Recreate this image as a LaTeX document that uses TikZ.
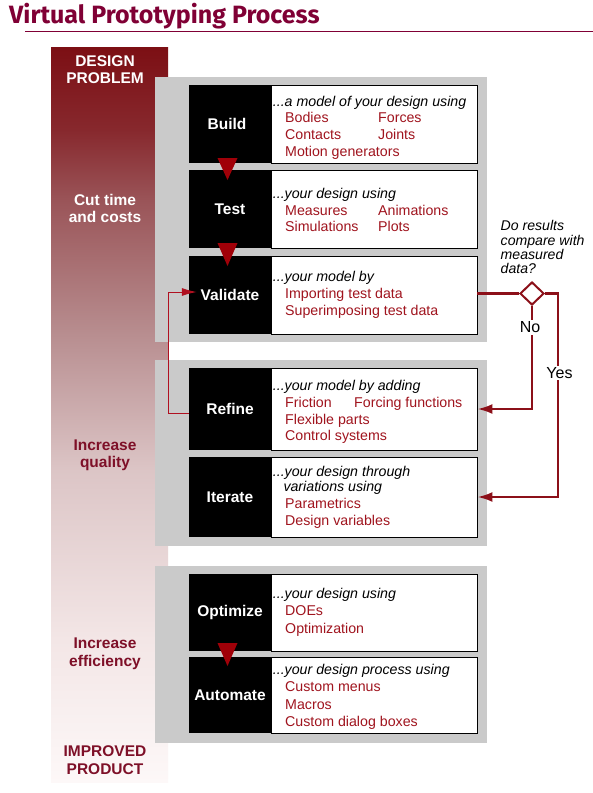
\documentclass[tikz,border=0pt]{standalone}
\usepackage{fontspec}
\setmainfont{Liberation Sans}
\newfontfamily\titlefont{Fira Sans}
\usetikzlibrary{arrows.meta,shapes.geometric}
\definecolor{maroon}{HTML}{8C1019}
\definecolor{itemred}{HTML}{A0141E}
\definecolor{titlecol}{HTML}{800035}
\definecolor{panelgray}{HTML}{CACACA}
\definecolor{tricol}{HTML}{A00008}
\definecolor{barlabel}{HTML}{7E1028}
\definecolor{loopred}{HTML}{B01020}
\definecolor{bA}{HTML}{FDF8F8}
\definecolor{bB}{HTML}{F3E6E6}
\definecolor{bC}{HTML}{DCC5C6}
\definecolor{bD}{HTML}{B88E90}
\definecolor{bE}{HTML}{9A5458}
\definecolor{bF}{HTML}{87282D}
\definecolor{bG}{HTML}{7C0F14}
\pgfdeclareverticalshading{barshade}{100bp}{color(0bp)=(bA); color(25bp)=(bA); color(34.7bp)=(bB); color(46.2bp)=(bC); color(55.4bp)=(bD); color(64.6bp)=(bE); color(69.4bp)=(bF); color(75bp)=(bG); color(100bp)=(bG)}
\tikzset{
  blk/.style={fill=black, text=white, font=\fontsize{15.5}{18}\selectfont\bfseries, minimum width=82pt, inner sep=0pt},
  wht/.style={fill=white, draw=black, line width=0.9pt, minimum width=206pt, inner sep=0pt},
  lead/.style={font=\fontsize{14.2}{17}\selectfont\itshape, anchor=base west, inner sep=0pt},
  itm/.style={font=\fontsize{14.2}{17}\selectfont, text=itemred, anchor=base west, inner sep=0pt},
  barw/.style={font=\fontsize{15.5}{18}\selectfont\bfseries, text=white, anchor=base, inner sep=0pt},
  barr/.style={font=\fontsize{15.5}{18}\selectfont\bfseries, text=barlabel, anchor=base, inner sep=0pt},
  flow/.style={draw=maroon, line width=2.4pt},
  flowarrow/.style={flow, -{Latex[length=15pt,width=10pt]}},
  loopline/.style={draw=loopred, line width=1pt, -{Latex[length=15pt,width=8pt]}},
  ques/.style={font=\fontsize{14.1}{17}\selectfont\itshape, anchor=base west, inner sep=0pt},
  yn/.style={font=\fontsize{16}{18}\selectfont, fill=white, inner sep=1.5pt},
  panel/.style={fill=panelgray},
  tri/.style={fill=tricol}
}
\begin{document}
\begin{tikzpicture}[x=1pt,y=-1pt]
\useasboundingbox (0,0) rectangle (593,793);
\fill[white] (0,0) rectangle (593,793);
% title
\node[anchor=base west, inner sep=0pt, text=titlecol, font=\titlefont\fontsize{25}{29}\selectfont\bfseries] (title) at (9,23) {Virtual Prototyping Process};
\draw[titlecol, line width=1.2pt] (25,31.7) -- (593,31.7);
% left bar
\shade[shading=barshade] (51,47) rectangle (168,782);
% panels
\fill[panel] (155,77) rectangle (487,342);
\fill[panel] (155,360) rectangle (487,546);
\fill[panel] (155,566) rectangle (487,743);
% white boxes
\node[wht, minimum height=78pt] (buildw) at (374,124) {};
\node[wht, minimum height=78pt] (testw) at (374,209) {};
\node[wht, minimum height=78pt] (valw) at (374,295) {};
\node[wht, minimum height=82pt] (refw) at (374,409) {};
\node[wht, minimum height=80pt] (itw) at (374,497) {};
\node[wht, minimum height=77pt] (optw) at (374,612.5) {};
\node[wht, minimum height=76pt] (autw) at (374,695) {};
% black boxes
\node[blk, minimum height=78pt] (buildb) at (230,124) {\hspace*{-6pt}Build};
\node[blk, minimum height=78pt] (testb) at (230,209) {Test};
\node[blk, minimum height=78pt] (valb) at (230,295) {Validate};
\node[blk, minimum height=82pt] (refb) at (230,409) {Refine};
\node[blk, minimum height=80pt] (itb) at (230,497) {Iterate};
\node[blk, minimum height=77pt] (optb) at (230,612.5) {Optimize};
\node[blk, minimum height=76pt] (autb) at (230,695) {Automate};
% triangles
\fill[tri] (217.5,158) -- (237.5,158) -- (227.5,180) -- cycle;
\fill[tri] (217.5,243) -- (237.5,243) -- (227.5,266) -- cycle;
\fill[tri] (217.5,643) -- (237.5,643) -- (227.5,666) -- cycle;
% bar labels
\node[barw] (l1) at (105,66) {DESIGN};
\node[barw] (l2) at (105,83.3) {PROBLEM};
\node[barw] (l3) at (105,205) {Cut time};
\node[barw] (l4) at (105,222.7) {and costs};
\node[barr] (l5) at (105,450) {Increase};
\node[barr] (l6) at (105,467) {quality};
\node[barr] (l7) at (105,648.3) {Increase};
\node[barr] (l8) at (105,666.7) {efficiency};
\node[barr] (l9) at (105,756.7) {IMPROVED};
\node[barr] (l10) at (105,774) {PRODUCT};
% build text
\node[lead] (b0) at (272.7,106) {...a model of your design using};
\node[itm] (b1) at (285,122.7) {Bodies};
\node[itm] (b2) at (378,122.7) {Forces};
\node[itm] (b3) at (285,139.4) {Contacts};
\node[itm] (b4) at (378,139.4) {Joints};
\node[itm] (b5) at (285,156) {Motion generators};
% test text
\node[lead] (c0) at (272.7,198) {...your design using};
\node[itm] (c1) at (285,215) {Measures};
\node[itm] (c2) at (378,215) {Animations};
\node[itm] (c3) at (285,231.7) {Simulations};
\node[itm] (c4) at (378,231.7) {Plots};
% validate text
\node[lead] (d0) at (272.7,281.7) {...your model by};
\node[itm] (d1) at (285,298.3) {Importing test data};
\node[itm] (d2) at (285,315) {Superimposing test data};
% refine text
\node[lead] (e0) at (272.7,390) {...your model by adding};
\node[itm] (e1) at (285,407.3) {Friction};
\node[itm] (e2) at (354,407.3) {Forcing functions};
\node[itm] (e3) at (285,424) {Flexible parts};
\node[itm] (e4) at (285,440.7) {Control systems};
% iterate text
\node[lead] (f0) at (272.7,476) {...your design through};
\node[lead] (f1) at (283.3,491.5) {variations using};
\node[itm] (f2) at (285,508.3) {Parametrics};
\node[itm] (f3) at (285,525) {Design variables};
% optimize text
\node[lead] (g0) at (272.7,598.3) {...your design using};
\node[itm] (g1) at (285,615.7) {DOEs};
\node[itm] (g2) at (285,633.3) {Optimization};
% automate text
\node[lead] (h0) at (272.7,674.3) {...your design process using};
\node[itm] (h1) at (285,691.7) {Custom menus};
\node[itm] (h2) at (285,709) {Macros};
\node[itm] (h3) at (285,726.7) {Custom dialog boxes};
% question
\node[ques] (q1) at (500.5,230.5) {Do results};
\node[ques] (q2) at (500.5,245) {compare with};
\node[ques] (q3) at (500.5,259.3) {measured};
\node[ques] (q4) at (500.5,273.3) {data?};
% decision
\node[diamond, draw=maroon, line width=2pt, fill=white, minimum width=24pt, minimum height=23pt, inner sep=0pt] (dia) at (532,293.5) {};
\draw[flow] (dia.west -| valw.east) -- (dia.west);
\coordinate (yc) at (558,293.5);
\draw[flowarrow] (dia.east) -- (yc) |- (itw.east);
\draw[flowarrow] (dia.south) |- (refw.east);
\node[yn] (yes) at (559.5,373.3) {Yes};
\node[yn] (no) at (530,327.5) {No};
% loop back
\coordinate (lpa) at (168,413);
\coordinate (lpb) at (168,292);
\draw[loopline, shorten >=-8pt] (refb.west |- lpa) -- (lpa) -- (lpb) -- (valb.west |- lpb);
\end{tikzpicture}
\end{document}
